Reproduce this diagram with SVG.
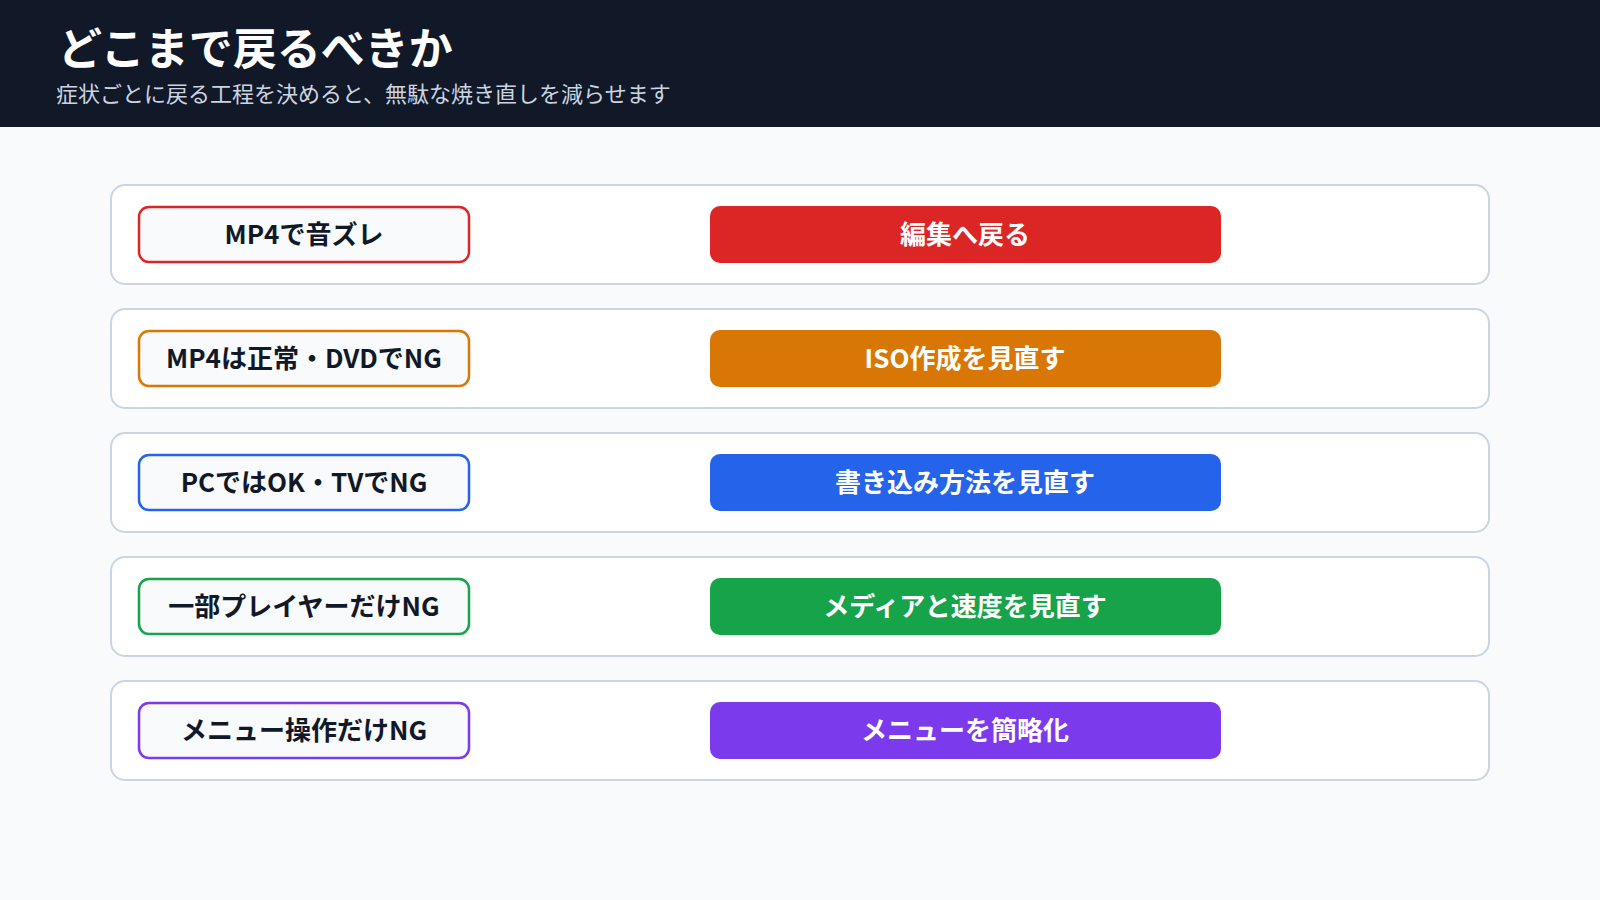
<svg xmlns="http://www.w3.org/2000/svg" width="1600" height="900" viewBox="0 0 1600 900">
<style>
.card{fill:#fff;stroke:#cbd5e1;stroke-width:2}
.lb{fill:#f8fafc;stroke-width:2.5}
.lt{font-family:"Noto Sans CJK JP","Noto Sans",sans-serif;font-weight:700;font-size:26px;fill:#111827;text-anchor:middle}
.rt{font-family:"Noto Sans CJK JP","Noto Sans",sans-serif;font-weight:700;font-size:26px;fill:#fff;text-anchor:middle}
</style>
<rect width="1600" height="900" fill="#f8fafc"/>
<rect width="1600" height="127" fill="#111827"/>
<text x="58" y="65" font-family="Noto Sans CJK JP,sans-serif" font-weight="700" font-size="44" fill="#fff">どこまで戻るべきか</text>
<text x="56" y="102" font-family="Noto Sans CJK JP,sans-serif" font-size="22" fill="#cbd5e1">症状ごとに戻る工程を決めると、無駄な焼き直しを減らせます</text>
<g id="connectors">
<g fill="#dc2626" stroke="none"><rect x="525" y="230" width="140" height="8"/><path d="M638 216 L666 234 L638 252Z"/></g>
<g fill="#d97706"><rect x="525" y="354" width="140" height="8"/><path d="M638 340 L666 358 L638 376Z"/></g>
<g fill="#2563eb"><rect x="525" y="478" width="140" height="8"/><path d="M638 464 L666 482 L638 500Z"/></g>
<g fill="#16a34a"><rect x="525" y="602" width="140" height="8"/><path d="M638 588 L666 606 L638 624Z"/></g>
<g fill="#7c3aed"><rect x="525" y="726" width="140" height="8"/><path d="M638 712 L666 730 L638 748Z"/></g>
</g>
<g id="row1"><rect class="card" x="111" y="185" width="1378" height="99" rx="14"/>
<rect class="lb" x="139" y="207" width="330" height="55" rx="10" stroke="#dc2626"/><text class="lt" x="304" y="244">MP4で音ズレ</text>
<rect x="710" y="206" width="511" height="57" rx="10" fill="#dc2626"/><text class="rt" x="965" y="244">編集へ戻る</text></g>
<g id="row2"><rect class="card" x="111" y="309" width="1378" height="99" rx="14"/>
<rect class="lb" x="139" y="331" width="330" height="55" rx="10" stroke="#d97706"/><text class="lt" x="304" y="368">MP4は正常・DVDでNG</text>
<rect x="710" y="330" width="511" height="57" rx="10" fill="#d97706"/><text class="rt" x="965" y="368">ISO作成を見直す</text></g>
<g id="row3"><rect class="card" x="111" y="433" width="1378" height="99" rx="14"/>
<rect class="lb" x="139" y="455" width="330" height="55" rx="10" stroke="#2563eb"/><text class="lt" x="304" y="492">PCではOK・TVでNG</text>
<rect x="710" y="454" width="511" height="57" rx="10" fill="#2563eb"/><text class="rt" x="965" y="492">書き込み方法を見直す</text></g>
<g id="row4"><rect class="card" x="111" y="557" width="1378" height="99" rx="14"/>
<rect class="lb" x="139" y="579" width="330" height="55" rx="10" stroke="#16a34a"/><text class="lt" x="304" y="616">一部プレイヤーだけNG</text>
<rect x="710" y="578" width="511" height="57" rx="10" fill="#16a34a"/><text class="rt" x="965" y="616">メディアと速度を見直す</text></g>
<g id="row5"><rect class="card" x="111" y="681" width="1378" height="99" rx="14"/>
<rect class="lb" x="139" y="703" width="330" height="55" rx="10" stroke="#7c3aed"/><text class="lt" x="304" y="740">メニュー操作だけNG</text>
<rect x="710" y="702" width="511" height="57" rx="10" fill="#7c3aed"/><text class="rt" x="965" y="740">メニューを簡略化</text></g>
</svg>
